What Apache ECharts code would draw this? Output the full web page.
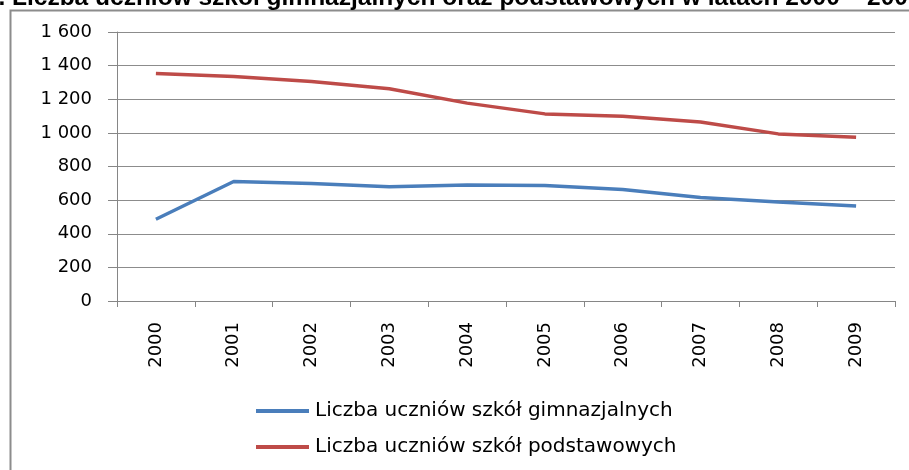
<!DOCTYPE html>
<html>
<head>
<meta charset="utf-8">
<script src="https://cdn.jsdelivr.net/npm/echarts@6/dist/echarts.min.js"></script>
<style>
html,body{margin:0;padding:0;background:#fff;}
#c{width:909px;height:470px;}
</style>
</head>
<body>
<div id="c"></div>
<script>
var years = ['2000','2001','2002','2003','2004','2005','2006','2007','2008','2009'];
var gimnazjalne = [486, 711, 699, 679, 690, 687, 663, 615, 589, 565];
var podstawowe = [1353, 1336, 1306, 1262, 1177, 1113, 1099, 1065, 994, 974];
var seriesNames = ['Liczba uczniów szkół gimnazjalnych', 'Liczba uczniów szkół podstawowych'];
var titlePrefix = '7. ';
var titleMain = 'Liczba uczniów szkół gimnazjalnych oraz podstawowych w latach 2000 – 2009';

var titleFont = 'bold 24.5px "Liberation Sans", Arial, sans-serif';
var cv = document.createElement('canvas').getContext('2d');
cv.font = titleFont;
var prefixW = cv.measureText(titlePrefix).width;

var chart = echarts.init(document.getElementById('c'), null, {renderer: 'canvas'});
var labelFont = '"DejaVu Sans", sans-serif';
chart.setOption({
  animation: false,
  backgroundColor: '#ffffff',
  grid: {left: 117, right: 14, top: 32, bottom: 169, containLabel: false},
  legend: {
    orient: 'vertical',
    left: 251,
    top: 396,
    itemWidth: 53,
    itemHeight: 4,
    itemGap: 16,
    icon: 'rect',
    textStyle: {fontFamily: labelFont, fontSize: 20, color: '#000', padding: [0,0,0,1]},
    data: seriesNames
  },
  xAxis: {
    type: 'category',
    data: years,
    boundaryGap: true,
    axisLine: {lineStyle: {color: '#868686', width: 1}},
    axisTick: {show: true, length: 6, alignWithLabel: false, lineStyle: {color: '#868686'}},
    axisLabel: {rotate: 90, interval: 0, margin: 21, fontFamily: labelFont, fontSize: 18, color: '#000'}
  },
  yAxis: {
    type: 'value',
    min: 0, max: 1600, interval: 200,
    axisLine: {show: true, lineStyle: {color: '#868686', width: 1}},
    axisTick: {show: true, length: 9, lineStyle: {color: '#868686'}},
    splitLine: {show: true, lineStyle: {color: '#8c8c8c', width: 1}},
    axisLabel: {
      margin: 25, fontFamily: labelFont, fontSize: 18, color: '#000',
      formatter: function (v) { return v >= 1000 ? Math.floor(v/1000) + ' ' + String(v % 1000).padStart(3,'0') : String(v); }
    }
  },
  series: [
    {name: seriesNames[0], type: 'line', data: gimnazjalne, symbol: 'none',
     lineStyle: {color: '#4A7EBB', width: 3.5}, itemStyle: {color: '#4A7EBB'}},
    {name: seriesNames[1], type: 'line', data: podstawowe, symbol: 'none',
     lineStyle: {color: '#BE4B48', width: 3.5}, itemStyle: {color: '#BE4B48'}}
  ],
  graphic: [
    {type: 'rect', left: 8, top: 8, z: -1, silent: true,
     shape: {width: 1000, height: 1000},
     style: {fill: 'none', stroke: '#8c8c8c', lineWidth: 2}},
    {type: 'text', x: 12 - prefixW, y: 11, silent: true,
     style: {text: titlePrefix + titleMain, font: titleFont, fill: '#000', verticalAlign: 'bottom', align: 'left'}}
  ]
});
</script>
</body>
</html>
